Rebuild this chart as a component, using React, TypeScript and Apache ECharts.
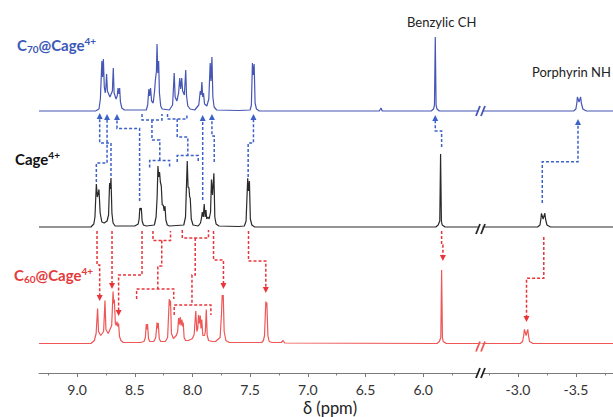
import React, { useEffect, useRef } from "react";
import * as echarts from "echarts";

// ---------- axis ticks (ppm) ----------
const leftMajorTicks = [9.0, 8.5, 8.0, 7.5, 7.0, 6.5, 6.0];
const leftMinorTicks = [9.25, 8.75, 8.25, 7.75, 7.25, 6.75, 6.25, 5.75];
const rightMajorTicks = [-3.0, -3.5];
const rightMinorTicks = [-2.75, -3.25, -3.75];
const leftRange = [5.49, 9.33];
const rightRange = [-3.82, -2.69];

// ---------- spectra: [ppm, intensity] ----------
const c70Left: [number, number][] = [
  [9.33, 0], [8.84, 0], [8.81, 2], [8.798, 12], [8.785, 50], [8.779, 34], [8.772, 52], [8.764, 24],
  [8.756, 18], [8.75, 24], [8.744, 37], [8.737, 20], [8.715, 14], [8.694, 20], [8.686, 43], [8.679, 18],
  [8.662, 12], [8.652, 15], [8.645, 23], [8.638, 17], [8.631, 23], [8.624, 9], [8.612, 3], [8.59, 1],
  [8.40, 1], [8.388, 6], [8.378, 22], [8.371, 15], [8.363, 23], [8.354, 10], [8.34, 8], [8.328, 20],
  [8.322, 30], [8.312, 40], [8.307, 67], [8.3, 38], [8.293, 50], [8.286, 18], [8.275, 5], [8.262, 2],
  [8.2, 1], [8.172, 6], [8.158, 38], [8.15, 14], [8.135, 10], [8.12, 18], [8.11, 33], [8.102, 22],
  [8.093, 33], [8.085, 20], [8.07, 16], [8.058, 41], [8.051, 15], [8.04, 5], [8.02, 2], [7.98, 1],
  [7.945, 6], [7.932, 20], [7.925, 16], [7.918, 29], [7.911, 14], [7.904, 18], [7.895, 7], [7.875, 5],
  [7.858, 12], [7.846, 48], [7.839, 30], [7.831, 54], [7.823, 14], [7.812, 4], [7.79, 1], [7.6, 0.5],
  [7.5, 1], [7.489, 6], [7.48, 48], [7.473, 36], [7.465, 47], [7.457, 8], [7.445, 2], [7.42, 0],
  [6.38, 0], [6.365, 3], [6.355, 0], [5.93, 0], [5.91, 2], [5.902, 6], [5.895, 74], [5.888, 6],
  [5.88, 2], [5.86, 0], [5.49, 0],
];
const c70Right: [number, number][] = [
  [-2.69, 0], [-3.48, 0], [-3.5, 2], [-3.508, 8], [-3.513, 14], [-3.527, 9], [-3.541, 14], [-3.547, 8],
  [-3.56, 2], [-3.59, 0], [-3.82, 0],
];
const cageLeft: [number, number][] = [
  [9.33, 0], [8.88, 0], [8.855, 3], [8.845, 10], [8.833, 43], [8.824, 30], [8.81, 37.5], [8.8, 14],
  [8.785, 5], [8.765, 4], [8.74, 6], [8.727, 12], [8.718, 44], [8.712, 38], [8.706, 49], [8.698, 14],
  [8.688, 4], [8.67, 1], [8.5, 1], [8.47, 3], [8.462, 8], [8.456, 19], [8.449, 17], [8.443, 19],
  [8.436, 6], [8.425, 2], [8.4, 1], [8.33, 2], [8.315, 10], [8.306, 30], [8.299, 61], [8.292, 50],
  [8.285, 55], [8.278, 45], [8.27, 41], [8.262, 22], [8.253, 22], [8.245, 16], [8.238, 21], [8.23, 7],
  [8.218, 2], [8.2, 1], [8.075, 2], [8.06, 10], [8.045, 66], [8.038, 40], [8.03, 39], [8.024, 30],
  [8.019, 29], [8.01, 8], [7.995, 2], [7.95, 1], [7.93, 4], [7.92, 10], [7.915, 15], [7.906, 10],
  [7.898, 23], [7.89, 10], [7.883, 17], [7.876, 8], [7.865, 10], [7.855, 8], [7.843, 15], [7.835, 47.5],
  [7.826, 32], [7.814, 53.7], [7.806, 10], [7.795, 3], [7.77, 1], [7.6, 0.5], [7.55, 1], [7.535, 6],
  [7.521, 48.7], [7.514, 36], [7.506, 46], [7.498, 8], [7.485, 2], [7.46, 0], [5.89, 0], [5.87, 2],
  [5.856, 6], [5.849, 73], [5.842, 6], [5.835, 2], [5.81, 0], [5.49, 0],
];
const cageRight: [number, number][] = [
  [-2.69, 0], [-3.17, 0], [-3.19, 2], [-3.198, 8], [-3.203, 13.7], [-3.217, 8], [-3.232, 13.7],
  [-3.238, 8], [-3.25, 2], [-3.28, 0], [-3.82, 0],
];
const c60Left: [number, number][] = [
  [9.33, 0], [8.88, 0], [8.85, 3], [8.835, 10], [8.822, 35], [8.814, 12], [8.795, 8], [8.77, 12],
  [8.758, 43], [8.75, 14], [8.73, 10], [8.7, 18], [8.688, 52], [8.683, 40], [8.677, 44], [8.668, 20],
  [8.66, 18], [8.654, 22], [8.647, 17], [8.64, 20], [8.632, 7], [8.62, 3], [8.6, 1], [8.45, 1],
  [8.42, 2], [8.408, 6], [8.4, 19.5], [8.394, 14], [8.389, 19.5], [8.381, 5], [8.37, 2], [8.335, 2],
  [8.318, 6], [8.307, 21], [8.301, 15], [8.296, 20.5], [8.288, 5], [8.275, 2], [8.235, 2], [8.215, 6],
  [8.201, 44.5], [8.195, 38], [8.19, 43], [8.182, 10], [8.165, 5], [8.14, 8], [8.128, 12], [8.12, 25.5],
  [8.113, 19], [8.106, 26.5], [8.099, 18], [8.091, 24], [8.085, 17], [8.08, 21], [8.072, 6], [8.06, 3],
  [8.035, 3], [8.0, 5], [7.985, 9], [7.971, 32.5], [7.962, 12], [7.954, 15], [7.947, 28.5], [7.94, 20],
  [7.932, 28], [7.926, 15], [7.919, 24], [7.91, 8], [7.895, 8], [7.888, 12], [7.88, 34], [7.872, 8],
  [7.86, 3], [7.83, 2], [7.8, 2], [7.76, 6], [7.748, 30], [7.742, 48.5], [7.737, 44], [7.733, 48.5],
  [7.725, 12], [7.71, 3], [7.68, 1], [7.4, 1], [7.385, 3], [7.375, 8], [7.364, 42], [7.36, 38],
  [7.355, 41], [7.346, 8], [7.335, 2], [7.31, 1], [7.23, 1], [7.214, 3], [7.2, 0.5], [5.88, 0],
  [5.86, 2], [5.847, 6], [5.84, 73.5], [5.833, 6], [5.826, 2], [5.8, 0], [5.49, 0],
];
const c60Right: [number, number][] = [
  [-2.69, 0], [-3.02, 0], [-3.04, 2], [-3.05, 8], [-3.056, 14.2], [-3.07, 8], [-3.085, 14.2],
  [-3.091, 8], [-3.1, 2], [-3.13, 0], [-3.82, 0],
];

// ---------- correlation connectors: [ppm, level] ----------
const blueArrowsLeft: [number, number][][] = [
  [[8.833, 191], [8.833, 210], [8.74, 210], [8.74, 256]],
  [[8.706, 197], [8.706, 230], [8.804, 230], [8.804, 257]],
  [[8.458, 172], [8.458, 244.5], [8.654, 244.5], [8.654, 256]],
  [[7.911, 173], [7.911, 255]],
  [[7.811, 211], [7.811, 237], [7.831, 237], [7.831, 256]],
  [[7.517, 196], [7.517, 230], [7.471, 230], [7.471, 256]],
  [[5.84, 226], [5.84, 242], [5.895, 242], [5.895, 255]],
];
const blueArrowsRight: [number, number][][] = [
  [[-3.21, 170], [-3.21, 211.3], [-3.518, 211.3], [-3.518, 251]],
];
const blueBrackets: [number, number][][] = [
  [[8.437, 259], [8.437, 253], [8.264, 253], [8.264, 259]],
  [[8.351, 253], [8.351, 233], [8.283, 233], [8.283, 212.5]],
  [[8.371, 205.5], [8.371, 212.5], [8.198, 212.5], [8.198, 205.5]],
  [[8.216, 259], [8.216, 254], [8.048, 254], [8.048, 259]],
  [[8.132, 254], [8.132, 236], [8.04, 236], [8.04, 217.5]],
  [[8.132, 211], [8.132, 217.5], [7.95, 217.5], [7.95, 211]],
];
const redArrowsLeft: [number, number][][] = [
  [[8.827, 142], [8.827, 108], [8.804, 108], [8.804, 75]],
  [[8.697, 142], [8.697, 87]],
  [[8.437, 142], [8.437, 98], [8.64, 98], [8.64, 60]],
  [[7.817, 142], [7.817, 113], [7.731, 113], [7.731, 87]],
  [[7.514, 142], [7.514, 112], [7.364, 112], [7.364, 83]],
  [[5.84, 142], [5.84, 128], [5.829, 128], [5.829, 115]],
];
const redArrowsRight: [number, number][][] = [
  [[-3.223, 136], [-3.223, 94.7], [-3.074, 94.7], [-3.074, 54]],
];
const redBrackets: [number, number][][] = [
  [[8.342, 142], [8.342, 132.5], [8.19, 132.5], [8.19, 142]],
  [[8.266, 132.5], [8.266, 107], [8.3, 107], [8.3, 84]],
  [[8.484, 74], [8.484, 84], [8.162, 84], [8.162, 74]],
  [[8.088, 143], [8.088, 135], [7.861, 135], [7.861, 143]],
  [[7.976, 135], [7.976, 98], [8.004, 98], [8.004, 68]],
  [[8.158, 58], [8.158, 68], [7.84, 68], [7.84, 58]],
];

// ---------- layout / style ----------
const GRID_LEFT = 39;
const BREAK_X = 482;
const PAGE_W = 613;
const AXIS_Y = 373;
const OFFSET = { c70: 262, cage: 146, c60: 29.5 };
const COLORS = {
  c70: "#4656b4",
  cage: "#2a2a2a",
  c60: "#ef5656",
  blueDash: "#3c62c8",
  redDash: "#e8343a",
  blueText: "#3b58b8",
  redText: "#e63a3a",
};
const FONT = "Lato";

export default function App() {
  const ref = useRef<HTMLDivElement>(null);

  useEffect(() => {
    if (!ref.current) return;
    const chart = echarts.init(ref.current, null, { renderer: "svg" });

    const shift = (pts: [number, number][], off: number) => pts.map(([x, y]) => [x, off + y]);

    const spectrum = (name: string, data: any[], color: string, xi: number, yi: number) => ({
      type: "line",
      name,
      xAxisIndex: xi,
      yAxisIndex: yi,
      data,
      showSymbol: false,
      symbol: "none",
      lineStyle: { color, width: 1.2 },
      silent: true,
      z: 2,
    });
    const conn = (data: [number, number][][], color: string, xi: number, yi: number) => ({
      type: "lines",
      coordinateSystem: "cartesian2d",
      xAxisIndex: xi,
      yAxisIndex: yi,
      polyline: true,
      symbol: "none",
      lineStyle: { color, width: 1.5, type: [3, 2], opacity: 1, curveness: 0 },
      data: data.map((c) => ({ coords: c })),
      silent: true,
      z: 5,
    });
    // arrowheads at the far end of each arrow connector
    const heads = (data: [number, number][][], color: string, xi: number, yi: number) => ({
      type: "scatter",
      xAxisIndex: xi,
      yAxisIndex: yi,
      symbol: "triangle",
      symbolSize: [6, 6],
      itemStyle: { color, opacity: 1 },
      data: data.map((c) => {
        const last = c[c.length - 1];
        const prev = c[c.length - 2];
        return { value: last, symbolRotate: last[1] > prev[1] ? 0 : 180 };
      }),
      silent: true,
      z: 6,
    });

    const xAxisBase = (gridIndex: number, range: number[]) => ({
      type: "value",
      gridIndex,
      min: range[0],
      max: range[1],
      inverse: true,
      position: "bottom",
      splitLine: { show: false },
    });

    const option: any = {
      animation: false,
      grid: [
        { left: GRID_LEFT, width: BREAK_X - GRID_LEFT, top: 0, height: AXIS_Y },
        { left: BREAK_X, width: PAGE_W - BREAK_X, top: 0, height: AXIS_Y },
      ],
      xAxis: [
        {
          ...xAxisBase(0, leftRange),
          axisLine: { show: true, lineStyle: { color: "#7a7a7a", width: 1 } },
          axisTick: { show: true, customValues: leftMajorTicks, length: 4, lineStyle: { color: "#7a7a7a" } },
          axisLabel: {
            show: true, customValues: leftMajorTicks, margin: 9, color: "#333", fontSize: 14, fontFamily: FONT,
            formatter: (v: number) => v.toFixed(1),
          },
        },
        {
          ...xAxisBase(0, leftRange),
          axisLine: { show: false },
          axisTick: { show: true, customValues: leftMinorTicks, length: 2.5, lineStyle: { color: "#7a7a7a" } },
          axisLabel: { show: false },
        },
        {
          ...xAxisBase(1, rightRange),
          axisLine: { show: true, lineStyle: { color: "#7a7a7a", width: 1 } },
          axisTick: { show: true, customValues: rightMajorTicks, length: 4, lineStyle: { color: "#7a7a7a" } },
          axisLabel: {
            show: true, customValues: rightMajorTicks, margin: 9, color: "#333", fontSize: 14, fontFamily: FONT,
            formatter: (v: number) => v.toFixed(1),
          },
        },
        {
          ...xAxisBase(1, rightRange),
          axisLine: { show: false },
          axisTick: { show: true, customValues: rightMinorTicks, length: 2.5, lineStyle: { color: "#7a7a7a" } },
          axisLabel: { show: false },
        },
      ],
      yAxis: [
        { type: "value", gridIndex: 0, min: 0, max: AXIS_Y, show: false },
        { type: "value", gridIndex: 1, min: 0, max: AXIS_Y, show: false },
      ],
      series: [
        spectrum("C70@Cage", shift(c70Left, OFFSET.c70), COLORS.c70, 0, 0),
        spectrum("Cage", shift(cageLeft, OFFSET.cage), COLORS.cage, 0, 0),
        spectrum("C60@Cage", shift(c60Left, OFFSET.c60), COLORS.c60, 0, 0),
        spectrum("C70@Cage NH", shift(c70Right, OFFSET.c70), COLORS.c70, 2, 1),
        spectrum("Cage NH", shift(cageRight, OFFSET.cage), COLORS.cage, 2, 1),
        spectrum("C60@Cage NH", shift(c60Right, OFFSET.c60), COLORS.c60, 2, 1),
        conn(blueArrowsLeft, COLORS.blueDash, 0, 0),
        conn(blueBrackets, COLORS.blueDash, 0, 0),
        conn(blueArrowsRight, COLORS.blueDash, 2, 1),
        conn(redArrowsLeft, COLORS.redDash, 0, 0),
        conn(redBrackets, COLORS.redDash, 0, 0),
        conn(redArrowsRight, COLORS.redDash, 2, 1),
        heads(blueArrowsLeft, COLORS.blueDash, 0, 0),
        heads(blueArrowsRight, COLORS.blueDash, 2, 1),
        heads(redArrowsLeft, COLORS.redDash, 0, 0),
        heads(redArrowsRight, COLORS.redDash, 2, 1),
      ],
    };
    chart.setOption(option);

    const px = (level: number) => chart.convertToPixel({ gridIndex: 0 }, [leftRange[0], level]) as number[];
    const brk = (level: number, dy: number, color: string) => {
      const [cx, cy0] = px(level);
      const cy = cy0 + dy;
      return {
        type: "group",
        z: 100,
        children: [
          { type: "rect", z: 100, shape: { x: cx - 3.5, y: cy - 3, width: 4, height: 6 }, style: { fill: "#fff" } },
          { type: "line", z: 101, shape: { x1: cx - 6, y1: cy + 5, x2: cx - 2, y2: cy - 5 }, style: { stroke: color, lineWidth: 1.8 } },
          { type: "line", z: 101, shape: { x1: cx - 1, y1: cy + 5, x2: cx + 3, y2: cy - 5 }, style: { stroke: color, lineWidth: 1.8 } },
        ],
      };
    };
    const label = (x: number, y: number, text: string, color: string, size: number, bold: boolean, align = "left") => ({
      type: "text",
      x,
      y,
      z: 110,
      style: {
        text,
        align,
        verticalAlign: "middle",
        fill: color,
        fontSize: size,
        fontFamily: FONT,
        fontWeight: bold ? "bold" : "normal",
      },
    });
    const richLabel = (x: number, y: number, text: string, color: string) => ({
      type: "text",
      x,
      y,
      z: 110,
      style: {
        text,
        align: "left",
        verticalAlign: "middle",
        rich: {
          m: { fill: color, fontSize: 15, fontWeight: "bold", fontFamily: FONT, lineHeight: 18 },
          s: { fill: color, fontSize: 10, fontWeight: "bold", fontFamily: FONT, lineHeight: 12, verticalAlign: "bottom" },
          p: { fill: color, fontSize: 10, fontWeight: "bold", fontFamily: FONT, lineHeight: 12, verticalAlign: "top" },
        },
      },
    });

    chart.setOption({
      graphic: [
        brk(OFFSET.c70, 0, COLORS.c70),
        brk(OFFSET.cage, 2, COLORS.cage),
        brk(OFFSET.c60, 3, COLORS.c60),
        brk(0, 0, "#222"),
        richLabel(17, 45, "{m|C}{s|70}{m|@Cage}{p|4+}", COLORS.blueText),
        richLabel(15, 159, "{m|Cage}{p|4+}", "#111"),
        richLabel(14, 275, "{m|C}{s|60}{m|@Cage}{p|4+}", COLORS.redText),
        label(441.7, 22, "Benzylic CH", "#222", 13, false, "center"),
        label(532, 72, "Porphyrin NH", "#222", 13, false, "left"),
        label(330, 408, "δ (ppm)", "#222", 16.5, false, "center"),
      ],
    });

    return () => chart.dispose();
  }, []);

  return (
    <div
      ref={ref}
      style={{ position: "fixed", left: 0, top: 0, width: 613, height: 417, background: "#fff" }}
    />
  );
}
